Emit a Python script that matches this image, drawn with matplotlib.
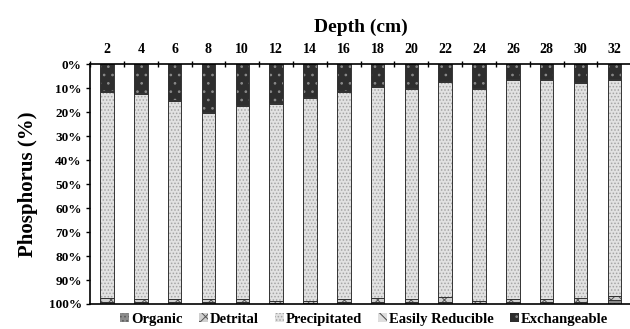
import matplotlib
matplotlib.use("Agg")
import matplotlib.pyplot as plt
import numpy as np

plt.rcParams['font.family'] = ['Liberation Serif', 'DejaVu Serif']
plt.rcParams['hatch.linewidth'] = 0.7

depths = ['2', '4', '6', '8', '10', '12', '14', '16', '18', '20', '22', '24', '26', '28', '30', '32']
series_names = ['Organic', 'Detrital', 'Precipitated', 'Easily Reducible', 'Exchangeable']

# values (percent of total P), bottom of the stack first
organic = [1.0, 0.8, 0.8, 0.8, 0.8, 0.5, 0.5, 0.8, 0.8, 0.8, 1.0, 0.5, 0.8, 0.8, 0.8, 1.5]
detrital = [1.5, 1.2, 1.2, 1.2, 1.2, 0.8, 0.8, 1.2, 1.5, 1.2, 1.8, 0.8, 1.2, 1.2, 1.5, 2.0]
precipitated = [85.7, 85.5, 82.5, 77.5, 80.5, 82.2, 84.7, 86.4, 88.2, 87.5, 89.7, 88.2, 91.5, 91.5, 89.7, 90.0]
easily_reducible = [0.8, 0.5, 0.5, 0.5, 0.5, 0.5, 0.5, 0.6, 0.5, 0.5, 0.5, 0.5, 0.5, 0.5, 0.5, 0.5]
exchangeable = [11.0, 12.0, 15.0, 20.0, 17.0, 16.0, 13.5, 11.0, 9.0, 10.0, 7.0, 10.0, 6.0, 6.0, 7.5, 6.0]

styles = [
    dict(facecolor='#8c8c8c', hatch='....', hcol='#5a5a5a'),
    dict(facecolor='#cfcfcf', hatch='xxx', hcol='#555555'),
    dict(facecolor='#e2e2e2', hatch='.....', hcol='#a4a4a4'),
    dict(facecolor='#dedede', hatch='\\\\\\', hcol='#444444'),
    dict(facecolor='#2e2e2e', hatch='..', hcol='#8a8a8a'),
]

data = np.array([organic, detrital, precipitated, easily_reducible, exchangeable])
data = data / data.sum(axis=0) * 100.0  # 100% stacked

fig = plt.figure(figsize=(6.3, 3.29), dpi=100)
ax = fig.add_axes([0.143, 0.076, 0.859, 0.729])

x = np.arange(len(depths))
width = 0.40
# stack grows from 100% (bottom) upwards to 0% (top)
cum = np.zeros(len(depths))
handles = []
for name, vals, st in zip(series_names, data, styles):
    b = ax.bar(x, vals, width, bottom=100 - cum - vals, facecolor=st['facecolor'],
               edgecolor=st['hcol'], hatch=st['hatch'], linewidth=0, label=name)
    ax.bar(x, vals, width, bottom=100 - cum - vals, fill=False, edgecolor='#333333', linewidth=0.7)
    handles.append(b)
    cum += vals

ax.set_ylim(100, 0)
ax.set_xlim(-0.5, len(depths) - 0.5)
ax.set_yticks(np.arange(0, 101, 10))
ax.set_yticklabels([f'{v}%' for v in range(0, 101, 10)], fontweight='bold', fontsize=9.5)
ax.set_ylabel('Phosphorus (%)', fontsize=15, fontweight='bold', labelpad=8)

ax.xaxis.set_ticks_position('top')
ax.xaxis.set_label_position('top')
ax.set_xticks(np.arange(-0.5, len(depths), 1.0))
ax.set_xticklabels([])
ax.set_xticks(x, minor=True)
ax.set_xticklabels(depths, minor=True, fontweight='bold', fontsize=10)
ax.tick_params(axis='x', which='major', direction='inout', length=4, width=1)
ax.tick_params(axis='x', which='minor', length=0, pad=6)
ax.tick_params(axis='y', direction='out', length=3, width=1, pad=3)
ax.set_xlabel('Depth (cm)', fontsize=14, fontweight='bold', labelpad=8)

for s in ['left', 'top', 'bottom']:
    ax.spines[s].set_linewidth(1.2)
ax.spines['right'].set_visible(False)

fig.legend(handles=handles, labels=series_names, loc='lower center', bbox_to_anchor=(0.578, -0.03),
           ncol=5, frameon=False, prop={'weight': 'bold', 'size': 10.5}, handlelength=0.6,
           handleheight=0.6, handletextpad=0.15, columnspacing=1.1)

fig.savefig('out.png', dpi=100)
